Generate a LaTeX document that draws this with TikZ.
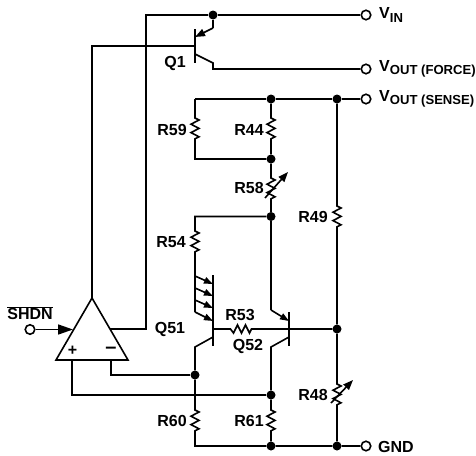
\documentclass[tikz,border=0pt]{standalone}
\usepackage{fontspec}
\setmainfont{Liberation Sans}[BoldFont={Liberation Sans Bold}]
\usetikzlibrary{arrows.meta}
\newcommand{\lab}[1]{{\fontsize{16}{16}\selectfont\bfseries #1}}
\newcommand{\vlab}[1]{{\fontsize{16}{16}\selectfont\bfseries V\raisebox{-3.5pt}{\fontsize{13.1}{13}\selectfont #1}}}
\newcommand{\zzv}{-- ++(4,2) -- ++(-8,4.2) -- ++(8,4.2) -- ++(-8,4.2) -- ++(8,4.2) -- ++(-4,2)}
\tikzset{
  wire/.style={line width=1.6pt,line cap=butt,line join=miter},
  bar/.style={line width=1.6pt},
  jn/.style={circle,fill=black,inner sep=0pt,minimum size=9pt},
  term/.style={circle,draw=black,fill=white,line width=1.6pt,inner sep=0pt,minimum size=9.5pt},
  txt/.style={inner sep=0pt,text=black},
  bigtip/.style={-{Triangle[length=10pt,width=7.5pt]}},
  smalltip/.style={-{Triangle[length=9pt,width=6.5pt]}},
  hugetip/.style={-{Triangle[length=15pt,width=10pt]}}
}
\begin{document}
\begin{tikzpicture}[x=1pt,y=-1pt]
\useasboundingbox (0,0) rectangle (476,455);
% terminals
\node[term] (vin) at (366,15) {};
\node[term] (vf) at (366,69) {};
\node[term] (vs) at (366,99) {};
\node[term] (gnd) at (366,446) {};
\node[term] (shdn) at (30,329.5) {};
% junctions
\node[jn] (j1) at (213,15) {};
\node[jn] (j2) at (271,99) {};
\node[jn] (j3) at (337,99) {};
\node[jn] (j4) at (271,159) {};
\node[jn] (j5) at (271,216.5) {};
\node[jn] (j6) at (337,329) {};
\node[jn] (j7) at (195,375) {};
\node[jn] (j8) at (271,395) {};
\node[jn] (j9) at (271,446) {};
\node[jn] (j10) at (337,446) {};
% op amp
\coordinate (apex) at (92,298);
\coordinate (ampl) at (56,360);
\coordinate (ampr) at (128,360);
\coordinate (ampout) at (110,329);
\coordinate (ampin) at (73,329.5);
\coordinate (plus) at (72,360);
\coordinate (minus) at (111,360);
\draw[wire] (apex) -- (ampl) -- (ampr) -- cycle;
% transistor Q1
\coordinate (q1b) at (195,46);
\coordinate (q1e) at (195,37);
\coordinate (q1c) at (195,54);
\draw[bar] (195,29) -- (195,63);
% wires
\draw[wire] (j1) -- (vin);
\draw[wire] (j1) -- (146,15) -- (146,329) -- (ampout);
\draw[wire] (apex) -- (92,46) -- (q1b);
\draw[wire] (j1) -- (213,28);
\draw[wire,bigtip] (213,28) -- (q1e);
\draw[wire] (q1c) -- (213,63) -- (213,69) -- (vf);
\draw[wire] (195,99) -- (j2) -- (j3) -- (vs);
\draw[wire] (195,99) -- (195,118) \zzv -- (195,159) -- (j4);
\draw[wire] (j2) -- (271,118) \zzv -- (j4);
\draw[wire] (j4) -- (271,178) \zzv -- (j5);
\draw[wire,bigtip] (265,198) -- (288,172);
\draw[wire] (j5) -- (195,216.5) -- (195,231) \zzv -- (195,312);
% Q51
\draw[bar] (213,275) -- (213,346);
\draw[wire,smalltip] (195,276) -- (213,284);
\draw[wire,smalltip] (195,288) -- (213,296);
\draw[wire,smalltip] (195,300) -- (213,308);
\draw[wire,smalltip] (195,312) -- (213,321);
\draw[wire] (213,337) -- (195,347) -- (j7);
% Q52
\draw[bar] (289,312) -- (289,346);
\draw[wire] (j5) -- (271,310);
\draw[wire,smalltip] (271,310) -- (289,321);
\draw[wire] (289,337) -- (271,347) -- (j8);
% base line
\draw[wire] (213,329) -- (228,329) -- ++(2.5,0) -- ++(3,4) -- ++(4,-8) -- ++(4,8) -- ++(4,-8) -- ++(4,8) -- ++(2,-4) -- (j6);
% right rail
\draw[wire] (j3) -- (337,206) \zzv -- (j6);
\draw[wire] (j6) -- (337,384) \zzv -- (j10);
\draw[wire,bigtip] (331,403) -- (353,380);
% bottom
\draw[wire] (j7) -- (195,410) \zzv -- (195,446) -- (j9) -- (j10) -- (gnd);
\draw[wire] (j8) -- (271,410) \zzv -- (j9);
\draw[wire] (j7) -- (111,375) -- (minus);
\draw[wire] (j8) -- (72,395) -- (plus);
\draw[wire,hugetip] (shdn) -- (ampin);
% labels
\node[txt] (lq1) at (175,63) {\lab{Q1}};
\node[txt] (lr59) at (172,130) {\lab{R59}};
\node[txt] (lr44) at (249,130) {\lab{R44}};
\node[txt] (lr58) at (249,188) {\lab{R58}};
\node[txt] (lr49) at (313,217) {\lab{R49}};
\node[txt] (lr54) at (171,242) {\lab{R54}};
\node[txt] (lq51) at (170,329) {\lab{Q51}};
\node[txt] (lr53) at (240,315) {\lab{R53}};
\node[txt] (lq52) at (248,346) {\lab{Q52}};
\node[txt] (lr60) at (172,421) {\lab{R60}};
\node[txt] (lr61) at (249,421) {\lab{R61}};
\node[txt] (lr48) at (313,395) {\lab{R48}};
\node[txt,anchor=west] (lgnd) at (378,447) {\lab{GND}};
\node[txt,anchor=west] (lvin) at (379,15) {\vlab{IN}};
\node[txt,anchor=west] (lvf) at (379,69) {\vlab{OUT (FORCE)}};
\node[txt,anchor=west] (lvs) at (379,99) {\vlab{OUT (SENSE)}};
\node[txt] (lshdn) at (30,313) {\lab{$\overline{\hbox{\lab{SHDN}}}$}};
\node[txt] (lplus) at (72.5,351) {\lab{+}};
\node[txt,font=\fontsize{20}{20}\selectfont\bfseries] (lminus) at (111,350.5) {–};
\end{tikzpicture}
\end{document}
